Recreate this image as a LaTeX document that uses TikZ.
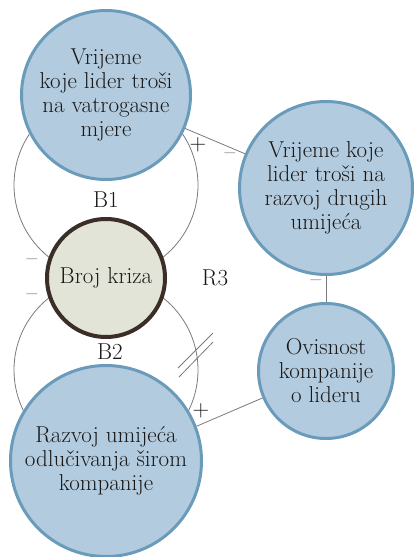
\documentclass[tikz,border=0pt]{standalone}
\usepackage{fontspec}
\definecolor{krugfill}{HTML}{B3CBDE}
\definecolor{krugrub}{HTML}{6A9BBA}
\definecolor{krizafill}{HTML}{E2E4D8}
\definecolor{krizarub}{HTML}{3B2D27}
\definecolor{petlja}{HTML}{7A7A7A}
\begin{document}
\begin{tikzpicture}[x=1pt,y=-1pt]
  \tikzstyle{every node}+=[font=\fontsize{23}{24}\selectfont, text=black!90]
  \tikzstyle{varijabla}=[circle, fill=krugfill, draw=krugrub, line width=3pt, align=center, inner sep=0pt]
  \tikzstyle{kriza}=[circle, fill=krizafill, draw=krizarub, line width=4pt, align=center, inner sep=0pt]
  \tikzstyle{veza}=[draw=petlja, line width=0.8pt]
  \tikzstyle{znak}=[inner sep=0pt]
  \useasboundingbox (0,0) rectangle (413,557);
  % petlje
  \draw [veza] (106,185) circle (92);
  \draw [veza] (106,370) circle (92);
  \draw [veza] (178,368) -- (213,333);
  \draw [veza] (179,377) -- (213,342);
  % varijable
  \node [varijabla, minimum size=169pt] (vatra) at (106,95) {Vrijeme\\koje lider troši\\na vatrogasne\\mjere};
  \node [varijabla, minimum size=173pt] (razvoj) at (326,188) {Vrijeme koje\\lider troši na\\razvoj drugih\\umijeća};
  \node [kriza, minimum size=118pt] (krize) at (106,278) {Broj kriza};
  \node [varijabla, minimum size=135pt] (ovisnost) at (326,371) {Ovisnost\\kompanije\\o lideru};
  \node [varijabla, minimum size=191pt] (umijece) at (106,461) {Razvoj umijeća\\odlučivanja širom\\kompanije};
  % veze
  \draw [veza] (vatra) -- (razvoj);
  \draw [veza] (razvoj) -- (ovisnost);
  \draw [veza] (umijece.21.6) -- (ovisnost.203);
  % oznake
  \node (b1) at (106,200) {B1};
  \node (b2) at (110,352) {B2};
  \node (r3) at (215,278) {R3};
  \node [znak] (p1) at (198,145) {+};
  \node [znak] (m1) at (230,156) {--};
  \node [znak] (m2) at (32,262) {--};
  \node [znak] (m3) at (32,297) {--};
  \node [znak] (m4) at (316,283) {--};
  \node [znak] (p2) at (201,411) {+};
\end{tikzpicture}
\end{document}
